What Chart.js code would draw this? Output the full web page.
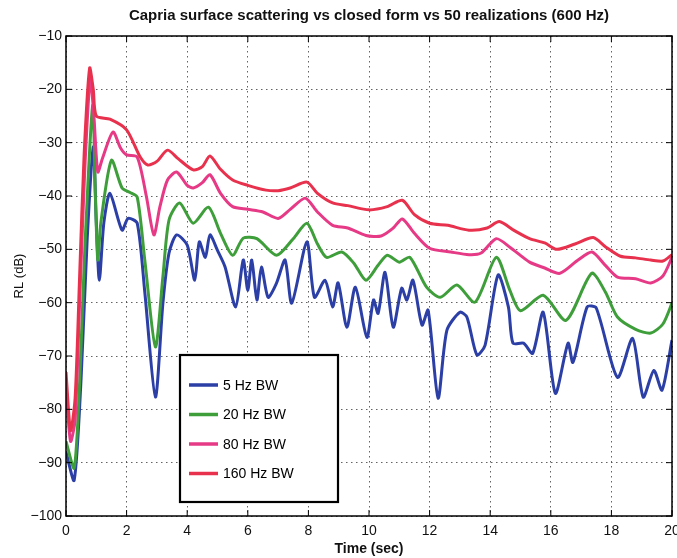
<!DOCTYPE html>
<html>
<head>
<meta charset="utf-8">
<title>Capria surface scattering</title>
<script src="https://cdn.jsdelivr.net/npm/chart.js@4.4.1/dist/chart.umd.min.js"></script>
<style>
  html, body { margin: 0; padding: 0; background: #fff; }
  #wrap { width: 677px; height: 558px; position: relative; }
</style>
</head>
<body>
<div id="wrap"><canvas id="rl"></canvas></div>
<script>
// Time (sec) / RL (dB) pairs, one pair of arrays per bandwidth
const t5 = [0, 0.27, 0.5, 0.7, 0.9, 1.0, 1.1, 1.25, 1.45, 1.85, 2.05, 2.35, 2.6, 2.95, 3.2, 3.4, 3.65, 4.0, 4.25, 4.4,
    4.6, 4.75, 5.0, 5.25, 5.6, 5.85, 6.0, 6.13, 6.3, 6.45, 6.67, 6.95, 7.23, 7.45, 7.95, 8.2, 8.55, 8.8, 8.98, 9.27,
    9.55, 9.93, 10.15, 10.3, 10.53, 10.8, 11.08, 11.25, 11.45, 11.75, 11.95, 12.28, 12.57, 13.0, 13.23, 13.56, 13.83, 14.26, 14.6, 14.75,
    15.1, 15.4, 15.75, 16.15, 16.57, 16.73, 17.2, 17.5, 18.2, 18.7, 19.05, 19.4, 19.67, 20];
const rl5 = [-88, -93.3, -74, -48, -30.8, -45, -55.8, -45, -39.5, -46.4, -44.2, -45.1, -58, -77.7, -60, -50.7, -47.3, -49.2, -55.8, -48.6,
    -51.5, -47.3, -50.2, -53.3, -60.8, -52, -57.7, -52, -59.5, -53.3, -59, -56.3, -52, -60.1, -48.6, -59, -55.8, -60.8, -56.3, -64.6,
    -57.1, -66.5, -59.5, -62, -54.3, -64.6, -57.3, -59.5, -55.8, -64.2, -61.4, -77.9, -65.2, -61.8, -62.7, -69.8, -68, -54.8, -60.8, -67.6,
    -67.6, -69.5, -61.8, -77, -67.6, -71.2, -60.8, -61, -74, -66.7, -77.7, -72.7, -76.4, -67];

const t20 = [0, 0.27, 0.45, 0.62, 0.88, 0.97, 1.05, 1.15, 1.5, 1.85, 2.1, 2.35, 2.6, 2.95, 3.2, 3.4, 3.75, 4.2, 4.7, 5.1,
    5.5, 5.85, 6.3, 6.95, 7.5, 7.95, 8.3, 8.6, 9.1, 9.5, 9.9, 10.3, 10.6, 11.0, 11.35, 11.9, 12.35, 12.9, 13.5, 14.2,
    14.65, 15.0, 15.75, 16.5, 17.35, 17.8, 18.2, 18.8, 19.3, 19.7, 20];
const rl20 = [-86, -91, -75, -50, -23, -40, -52, -45, -33.3, -38.5, -39.3, -40.2, -52, -68.3, -55, -44.5, -41.3, -45.1, -42.1, -47,
    -51.1, -47.9, -48, -51.1, -48, -45.1, -49, -51.5, -50.5, -52.6, -55.8, -53, -51.1, -52.4, -51.5, -57.1, -59, -56.7, -59.9, -51.5,
    -57.7, -61.5, -58.6, -63.3, -54.5, -58, -62.7, -65, -65.7, -64, -60.1];

const t80 = [0, 0.15, 0.3, 0.45, 0.62, 0.8, 0.92, 1.05, 1.2, 1.55, 1.8, 2.0, 2.35, 2.65, 2.9, 3.1, 3.35, 3.65, 4.0, 4.2,
    4.5, 4.75, 5.1, 5.5, 6.0, 6.5, 7.0, 7.4, 7.9, 8.3, 8.8, 9.3, 9.9, 10.4, 10.8, 11.1, 11.5, 12.0, 12.7, 13.3,
    13.7, 14.2, 14.65, 15.3, 15.8, 16.3, 16.9, 17.36, 17.8, 18.2, 18.8, 19.3, 19.7, 20];
const rl80 = [-76, -86, -82, -60, -35, -18, -25, -35.5, -33, -28, -31, -32.3, -32.7, -40, -47.3, -42, -37, -35.5, -38, -38.5,
    -37.5, -36, -39.5, -42, -42.5, -43, -44.2, -42.5, -40.4, -43, -45.5, -46, -47.4, -47.5, -46, -44.3, -47, -49.8, -50.5, -51,
    -50.7, -48, -49.6, -52.4, -53.5, -54.5, -52, -50.5, -53, -55.2, -55.5, -56.3, -55, -51.5];

const t160 = [0, 0.15, 0.3, 0.45, 0.6, 0.78, 0.9, 1.0, 1.45, 2.0, 2.45, 2.7, 3.0, 3.35, 3.7, 4.2, 4.5, 4.75, 5.1, 5.5,
    6.0, 6.6, 7.0, 7.4, 7.95, 8.3, 8.8, 9.3, 10.0, 10.6, 11.1, 11.5, 12.0, 12.6, 13.3, 13.9, 14.3, 14.8, 15.3, 15.8,
    16.2, 16.8, 17.4, 17.8, 18.3, 18.8, 19.3, 19.7, 20];
const rl160 = [-73, -84, -78, -55, -32, -16, -20, -25, -25.6, -27.6, -32.7, -34.2, -33.5, -31.4, -33, -35.1, -34.5, -32.5, -35, -37,
    -38, -38.9, -39, -38.5, -37.4, -39.5, -41.3, -41.8, -42.6, -42, -40.8, -43.5, -45.1, -45.5, -46.4, -46, -44.8, -46.5, -48, -48.8,
    -50, -49, -47.8, -49.5, -51.3, -51.6, -52, -52.2, -51];

const seriesNames = ['5 Hz BW', '20 Hz BW', '80 Hz BW', '160 Hz BW'];
const xTicks = [0, 2, 4, 6, 8, 10, 12, 14, 16, 18, 20];
const yTicks = [-100, -90, -80, -70, -60, -50, -40, -30, -20, -10];

const colors = ['#2b3fa6', '#3e9e3a', '#e63a86', '#e8314d'];
const FONT = '"Liberation Sans", Arial, Helvetica, sans-serif';

function pts(ts, vs) {
    return ts.map((t, i) => ({ x: t, y: vs[i] }));
}

const series = [pts(t5, rl5), pts(t20, rl20), pts(t80, rl80), pts(t160, rl160)];

// MATLAB-like box, inward ticks and the in-plot legend
const matlabBox = {
    id: 'matlabBox',
    afterDatasetsDraw(chart) {
        const { ctx, chartArea: a, scales: { x, y } } = chart;
        ctx.save();
        ctx.strokeStyle = '#000';
        ctx.lineWidth = 1.5;
        ctx.strokeRect(a.left, a.top, a.right - a.left, a.bottom - a.top);
        ctx.lineWidth = 1;
        ctx.beginPath();
        xTicks.forEach(v => {
            const px = x.getPixelForValue(v);
            ctx.moveTo(px, a.bottom); ctx.lineTo(px, a.bottom - 6);
            ctx.moveTo(px, a.top); ctx.lineTo(px, a.top + 6);
        });
        yTicks.forEach(v => {
            const py = y.getPixelForValue(v);
            ctx.moveTo(a.left, py); ctx.lineTo(a.left + 6, py);
            ctx.moveTo(a.right, py); ctx.lineTo(a.right - 6, py);
        });
        ctx.stroke();
        ctx.restore();
    },
    afterDraw(chart) {
        const { ctx, chartArea: a } = chart;
        const bx = a.left + 114, by = a.top + 319, bw = 158, bh = 147;
        ctx.save();
        ctx.fillStyle = '#fff';
        ctx.fillRect(bx, by, bw, bh);
        ctx.strokeStyle = '#000';
        ctx.lineWidth = 2.2;
        ctx.strokeRect(bx, by, bw, bh);
        ctx.font = '14px ' + FONT;
        ctx.textBaseline = 'middle';
        seriesNames.forEach((name, i) => {
            const ly = by + 30 + i * 29.5;
            ctx.strokeStyle = colors[i];
            ctx.lineWidth = 3.5;
            ctx.beginPath();
            ctx.moveTo(bx + 9, ly); ctx.lineTo(bx + 38, ly);
            ctx.stroke();
            ctx.fillStyle = '#000';
            ctx.fillText(name, bx + 43, ly + 1);
        });
        ctx.restore();
    }
};

// dotted grid like MATLAB's ':' grid style (v4 takes the grid dash from border.dash)
const gridStyle = { color: 'rgba(60,60,60,0.8)', lineWidth: 1, drawTicks: false };
const borderStyle = { display: false, dash: [1.5, 3.5] };
const minusFmt = v => String(v).replace('-', '\u2212');

new Chart(document.getElementById('rl'), {
    type: 'line',
    data: {
        datasets: series.map((d, i) => ({
            label: seriesNames[i],
            data: d,
            borderColor: colors[i],
            backgroundColor: colors[i],
            borderWidth: 3,
            pointRadius: 0,
            tension: 0.25,
            fill: false,
            order: 4 - i
        }))
    },
    options: {
        responsive: true,
        maintainAspectRatio: false,
        animation: false,
        layout: { padding: { left: 0, right: 5, top: 0, bottom: 0 } },
        plugins: {
            legend: { display: false },
            tooltip: { enabled: false },
            title: {
                display: true,
                fullSize: false,
                text: 'Capria surface scattering vs closed form vs 50 realizations (600 Hz)',
                color: '#111',
                font: { family: FONT, size: 15, weight: 'bold' },
                padding: { top: 7, bottom: 11 }
            }
        },
        scales: {
            x: {
                type: 'linear',
                min: 0,
                max: 20,
                afterBuildTicks: s => { s.ticks = xTicks.map(v => ({ value: v })); },
                afterFit: s => { s.height = 42; s.paddingLeft = 0; s.paddingRight = 0; },
                grid: gridStyle,
                border: borderStyle,
                ticks: { color: '#111', padding: 7, maxRotation: 0, font: { family: FONT, size: 14 } },
                title: {
                    display: true,
                    text: 'Time (sec)',
                    color: '#111',
                    font: { family: FONT, size: 14, weight: 'bold' },
                    padding: { top: 0, bottom: 0 }
                }
            },
            y: {
                type: 'linear',
                min: -100,
                max: -10,
                afterBuildTicks: s => { s.ticks = yTicks.map(v => ({ value: v })); },
                afterFit: s => { s.width = 66; s.paddingTop = 0; s.paddingBottom = 0; },
                grid: gridStyle,
                border: borderStyle,
                ticks: { color: '#111', padding: 4, font: { family: FONT, size: 14 }, callback: minusFmt },
                title: {
                    display: true,
                    text: 'RL (dB)',
                    color: '#111',
                    font: { family: FONT, size: 13 },
                    padding: { top: 12, bottom: 0 }
                }
            }
        }
    },
    plugins: [matlabBox]
});
</script>
</body>
</html>
